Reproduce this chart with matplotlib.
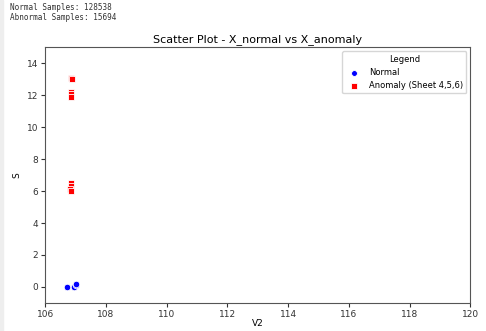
import numpy as np
import matplotlib.pyplot as plt
from matplotlib.patches import Rectangle

# Values
normal_v2 = [106.72, 106.95, 107.0, 107.02]
normal_s = [0.0, 0.02, 0.1, 0.15]
anomaly_v2 = [106.85, 106.87, 106.85, 106.86, 106.85, 106.84, 106.85, 106.83, 106.84]
anomaly_s = [13.1, 13.0, 12.2, 12.05, 11.9, 6.5, 6.3, 6.1, 6.0]
normal_count = 128538
anomaly_count = 15694

fig = plt.figure(figsize=(4.86, 3.31), dpi=100)

# notebook-style output header
fig.patches.append(Rectangle((0, 0), 0.006, 1, transform=fig.transFigure,
                             color="#eeeeee", zorder=0))
fig.text(0.02, 0.99, f"Normal Samples: {normal_count}", family="DejaVu Sans Mono",
         fontsize=5.5, color="#333333", va="top")
fig.text(0.02, 0.96, f"Abnormal Samples: {anomaly_count}", family="DejaVu Sans Mono",
         fontsize=5.5, color="#333333", va="top")

ax = fig.add_axes([0.093, 0.085, 0.875, 0.772])
ax.scatter(normal_v2, normal_s, c="blue", marker="o", s=22, edgecolors="white",
           linewidths=0.6, label="Normal")
ax.scatter(anomaly_v2, anomaly_s, c="red", marker="s", s=22, edgecolors="white",
           linewidths=0.6, label="Anomaly (Sheet 4,5,6)")

ax.set_xlim(106, 120)
ax.set_ylim(-1, 15)
ax.set_xticks(np.arange(106, 121, 2))
ax.set_yticks(np.arange(0, 15, 2))
ax.tick_params(labelsize=6.5, colors="#333333", length=3, pad=2)
ax.set_xlabel("V2", fontsize=6.5, labelpad=0)
ax.set_ylabel("S", fontsize=6.5)
ax.set_title("Scatter Plot - X_normal vs X_anomaly", fontsize=8, pad=4)
for sp in ax.spines.values():
    sp.set_color("#555555")

leg = ax.legend(title="Legend", loc="upper right", fontsize=6, title_fontsize=6,
                markerscale=0.9, frameon=True)

fig.savefig("out.png", dpi=100)
